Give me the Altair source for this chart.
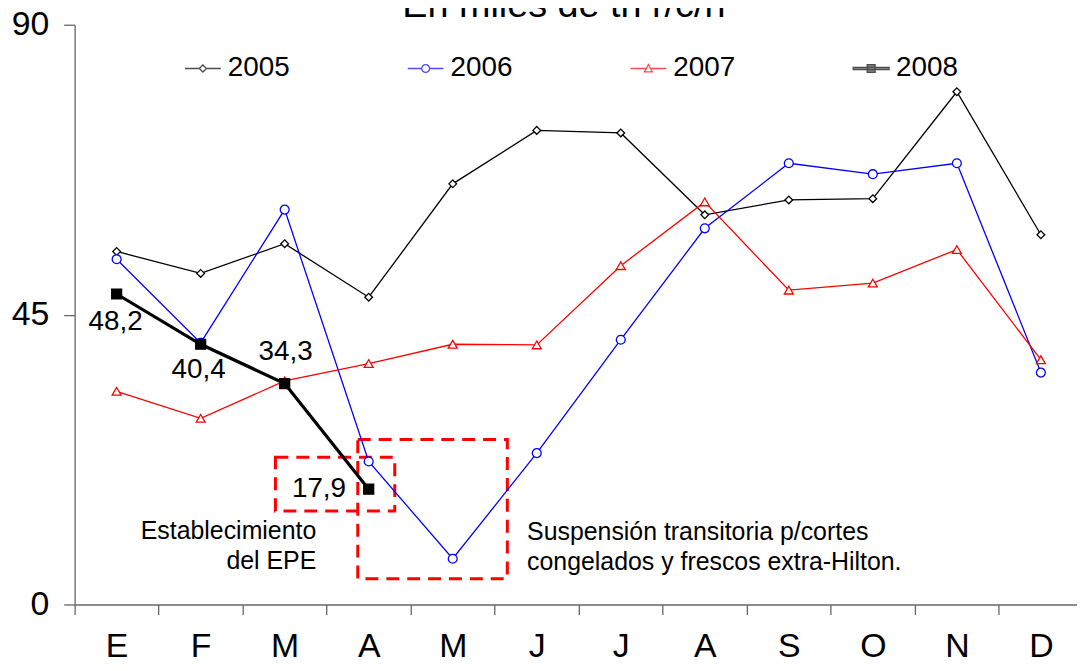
import altair as alt
import pandas as pd

# ---------------- data ----------------
months = ["E", "F", "M", "A", "M", "J", "J", "A", "S", "O", "N", "D"]
years = ["2005", "2006", "2007", "2008"]
v2005 = [54.8, 51.4, 56.0, 47.7, 65.3, 73.6, 73.2, 60.5, 62.8, 63.0, 79.6, 57.4]
v2006 = [53.6, 40.6, 61.3, 22.2, 7.1, 23.5, 41.1, 58.4, 68.5, 66.8, 68.5, 36.0]
v2007 = [33.1, 28.9, 34.7, 37.4, 40.4, 40.3, 52.6, 62.5, 48.8, 49.9, 55.1, 38.0]
v2008 = [48.2, 40.4, 34.3, 17.9]
y_ticks = [0, 45, 90]
title_text = "En miles de tn r/c/h"
note_texts = ["Establecimiento\ndel EPE",
              "Suspensión transitoria p/cortes\ncongelados y frescos extra-Hilton."]
note_x = [2.876, 5.385]
note_y = [13.24, 13.08]
box_x1 = [2.39, 3.37]
box_x2 = [3.81, 5.15]
box_y1 = [22.85, 25.6]
box_y2 = [14.5, 4.0]

series = {"2005": v2005, "2006": v2006, "2007": v2007, "2008": v2008}
rows = []
for yr, vals in series.items():
    for i, v in enumerate(vals):
        rows.append({"year": yr, "idx": i, "pos": i + 0.5, "value": v,
                     "label": f"{v:.1f}".replace(".", ",")})
df = pd.DataFrame(rows)

FONT = "Liberation Sans"
AX = "#666666"

# ---------------- styles ----------------
style = {
    "2005": dict(color="#000000", width=1.3, shape="diamond", size=60, fill="#ffffff"),
    "2006": dict(color="#0000ff", width=1.3, shape="circle", size=80, fill="#ffffff"),
    "2007": dict(color="#ff0000", width=1.3, shape="triangle-up", size=80, fill="#ffffff"),
    "2008": dict(color="#000000", width=3.2, shape="square", size=100, fill="#000000"),
}

# legend symbols: line + marker, as custom paths
legend_paths = [
    "M-1,0L-0.2,0M0.2,0L1,0M-0.2,0L0,-0.2L0.2,0L0,0.2Z",
    "M-1,0L-0.22,0M0.22,0L1,0M-0.22,0A0.22,0.22 0 1,0 0.22,0A0.22,0.22 0 1,0 -0.22,0Z",
    "M-1,0L-0.12,0M0.12,0L1,0M-0.22,0.19L0,-0.22L0.22,0.19Z",
    "M-1,-0.06L1,-0.06L1,0.06L-1,0.06ZM-0.22,-0.22L0.22,-0.22L0.22,0.22L-0.22,0.22Z",
]

months_js = "[" + ",".join(f"'{m}'" for m in months) + "]"
xaxis = alt.Axis(
    values=[k / 2 for k in range(24)],
    title=None, grid=False, tickSize=10,
    labelExpr=f"datum.value % 1 != 0 ? {months_js}[floor(datum.value)] : ''",
    labelFontSize=34, labelFont=FONT, labelColor="black", labelPadding=15,
    labelOverlap=False, labelFlush=False, labelBound=False,
    tickOpacity={"condition": {"test": "datum.value % 1 == 0", "value": 1}, "value": 0},
    domainColor=AX, tickColor=AX, domainWidth=1.3, tickWidth=1.3,
)
yaxis = alt.Axis(
    values=y_ticks, title=None, grid=False, tickSize=11,
    labelFontSize=34, labelFont=FONT, labelColor="black", labelPadding=15,
    domainColor=AX, tickColor=AX, domainWidth=1.3, tickWidth=1.3,
    labelFlush=False,
)
XS = alt.Scale(domain=[0, 11.93], nice=False, zero=False)
YS = alt.Scale(domain=[0, 90], nice=False)
X = alt.X("pos:Q", scale=XS, axis=xaxis)
Y = alt.Y("value:Q", scale=YS, axis=yaxis)

base = alt.Chart(df)
layers = []

# dashed annotation boxes
boxes = pd.DataFrame({"x1": box_x1, "x2": box_x2, "y1": box_y1, "y2": box_y2})
layers.append(
    alt.Chart(boxes).mark_rect(fillOpacity=0, stroke="#ff0000", strokeWidth=3,
                               strokeDash=[13, 8]).encode(
        x=alt.X("x1:Q", scale=XS, axis=xaxis),
        x2="x2:Q",
        y=alt.Y("y1:Q", scale=YS, axis=yaxis),
        y2="y2:Q",
    )
)

for yr in years:
    s = style[yr]
    sub = base.transform_filter(alt.datum.year == yr)
    layers.append(sub.mark_line(color=s["color"], strokeWidth=s["width"]).encode(x=X, y=Y))
    layers.append(sub.mark_point(shape=s["shape"], size=s["size"], filled=True,
                                 fill=s["fill"], stroke=s["color"], strokeWidth=1.3,
                                 opacity=1).encode(x=X, y=Y))

# legend-only layer (no rows drawn)
leg = alt.Legend(orient="none", legendX=110, legendY=25, direction="horizontal",
                 columns=4, title=None, labelFontSize=28, labelFont=FONT,
                 labelColor="black", symbolSize=1296, symbolStrokeWidth=1.3,
                 columnPadding=115, labelOffset=6, padding=0)
layers.append(
    base.transform_filter("false").mark_point(filled=True, size=1296, strokeWidth=1.3).encode(
        x=X, y=Y,
        stroke=alt.Stroke("year:N", scale=alt.Scale(domain=years, range=[style[y]["color"] for y in years]), legend=leg),
        fill=alt.Fill("year:N", scale=alt.Scale(domain=years, range=[style[y]["fill"] for y in years]), legend=leg),
        shape=alt.Shape("year:N", scale=alt.Scale(domain=years, range=legend_paths), legend=leg),
    )
)

# 2008 data labels
lab = base.transform_filter(alt.datum.year == "2008")
label_offsets = [(0, -1, 28), (1, -2, 26), (2, 1, -32), (3, -50, 0)]
for i, dx, dy in label_offsets:
    layers.append(
        lab.transform_filter(alt.datum.idx == i).mark_text(
            fontSize=28, font=FONT, color="black", align="center", baseline="middle",
            dx=dx, dy=dy).encode(x=X, y=Y, text="label:N")
    )

# notes
notes = pd.DataFrame({"x": note_x, "y": note_y, "t": note_texts})
for i, al in [(0, "right"), (1, "left")]:
    layers.append(
        alt.Chart(notes).transform_filter(f"datum.x == {note_x[i]}").mark_text(
            fontSize=25, font=FONT, color="black", align=al, baseline="top",
            lineBreak="\n", lineHeight=30).encode(
            x=alt.X("x:Q", scale=XS, axis=xaxis),
            y=alt.Y("y:Q", scale=YS, axis=yaxis),
            text="t:N")
    )

# title (partly cut at the top, as in the reference)
layers.append(
    alt.Chart(pd.DataFrame({"t": [title_text]})).mark_text(
        fontSize=38, font=FONT, color="black", align="center", baseline="alphabetic").encode(
        text="t:N", x=alt.value(492), y=alt.value(-8))
)

chart = alt.layer(*layers).properties(
    width=1008, height=583,
    padding={"left": 67, "top": 15, "right": 0, "bottom": 57},
    autosize=alt.AutoSizeParams(type="none"),
    background="white",
).configure_view(stroke=None)

chart.save("out.html", embed_options={"renderer": "svg", "actions": False})
